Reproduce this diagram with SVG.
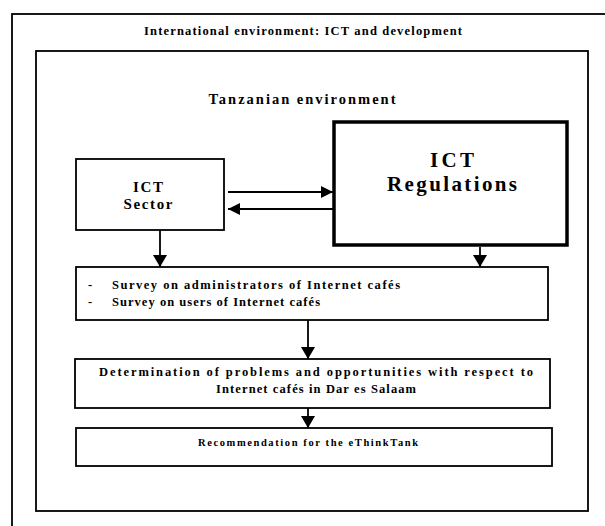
<svg xmlns="http://www.w3.org/2000/svg" width="605" height="526" viewBox="0 0 605 526">
<style>
.box{fill:none;stroke:#000;stroke-width:1.8}
.thick{fill:none;stroke:#000;stroke-width:3.5}
.ln{stroke:#000;stroke-width:1.8;fill:none}
.t{font-family:"Liberation Serif","Times New Roman",serif;font-weight:bold;fill:#000}
</style>
<defs>
<marker id="ah" viewBox="0 0 12 12" refX="12" refY="6" markerWidth="12" markerHeight="12" markerUnits="userSpaceOnUse" orient="auto">
<path d="M0,0 L12,6 L0,12 Z" fill="#000"/>
</marker>
<marker id="ahv" viewBox="0 0 14 14" refX="12" refY="7" markerWidth="14" markerHeight="14" markerUnits="userSpaceOnUse" orient="auto">
<path d="M0,0 L12,7 L0,14 Z" fill="#000"/>
</marker>
</defs>
<rect width="605" height="526" fill="#fff"/>
<g id="international">
<rect class="box" x="12" y="14" width="610" height="530"/>
<text class="t" x="303" y="35" font-size="12.5" text-anchor="middle" textLength="318" lengthAdjust="spacing">International environment: ICT and development</text>
</g>
<g id="tanzania">
<rect class="box" x="36" y="51" width="552" height="460"/>
<text class="t" x="302" y="104" font-size="14.5" text-anchor="middle" textLength="187" lengthAdjust="spacing">Tanzanian environment</text>
</g>
<g id="ict-sector">
<rect class="box" x="76" y="159" width="148" height="71"/>
<text class="t" x="148" y="192" font-size="15" text-anchor="middle" textLength="30" lengthAdjust="spacing">ICT</text>
<text class="t" x="148" y="209" font-size="15" text-anchor="middle" textLength="49" lengthAdjust="spacing">Sector</text>
</g>
<g id="ict-regulations">
<rect class="thick" x="334" y="122" width="233" height="123"/>
<text class="t" x="452" y="167" font-size="21" text-anchor="middle" textLength="44" lengthAdjust="spacing">ICT</text>
<text class="t" x="452" y="191" font-size="21" text-anchor="middle" textLength="130" lengthAdjust="spacing">Regulations</text>
</g>
<g id="surveys">
<rect class="box" x="76" y="267" width="472" height="53"/>
<text class="t" x="88" y="289" font-size="12.5">-</text>
<text class="t" x="112" y="289" font-size="12.5" textLength="288" lengthAdjust="spacing">Survey on administrators of Internet cafés</text>
<text class="t" x="88" y="306" font-size="12.5">-</text>
<text class="t" x="112" y="306" font-size="12.5" textLength="208" lengthAdjust="spacing">Survey on users of Internet cafés</text>
</g>
<g id="determination">
<rect class="box" x="75" y="359" width="475" height="49"/>
<text class="t" x="316" y="376" font-size="12.5" text-anchor="middle" textLength="434" lengthAdjust="spacing">Determination of problems and opportunities with respect to</text>
<text class="t" x="316" y="393" font-size="12.5" text-anchor="middle" textLength="200" lengthAdjust="spacing">Internet cafés in Dar es Salaam</text>
</g>
<g id="recommendation">
<rect class="box" x="76" y="428" width="476" height="38"/>
<text class="t" x="308" y="446" font-size="10.5" text-anchor="middle" textLength="220" lengthAdjust="spacing">Recommendation for the eThinkTank</text>
</g>
<g id="connectors">
<line class="ln" x1="228" y1="192" x2="333" y2="192" marker-end="url(#ah)"/>
<line class="ln" x1="333" y1="209" x2="228" y2="209" marker-end="url(#ah)"/>
<line class="ln" x1="160" y1="230" x2="160" y2="267" marker-end="url(#ahv)"/>
<line class="ln" x1="480" y1="247" x2="480" y2="267" marker-end="url(#ahv)"/>
<line class="ln" x1="308" y1="320" x2="308" y2="359" marker-end="url(#ahv)"/>
<line class="ln" x1="308" y1="408" x2="308" y2="428" marker-end="url(#ahv)"/>
</g>
</svg>
